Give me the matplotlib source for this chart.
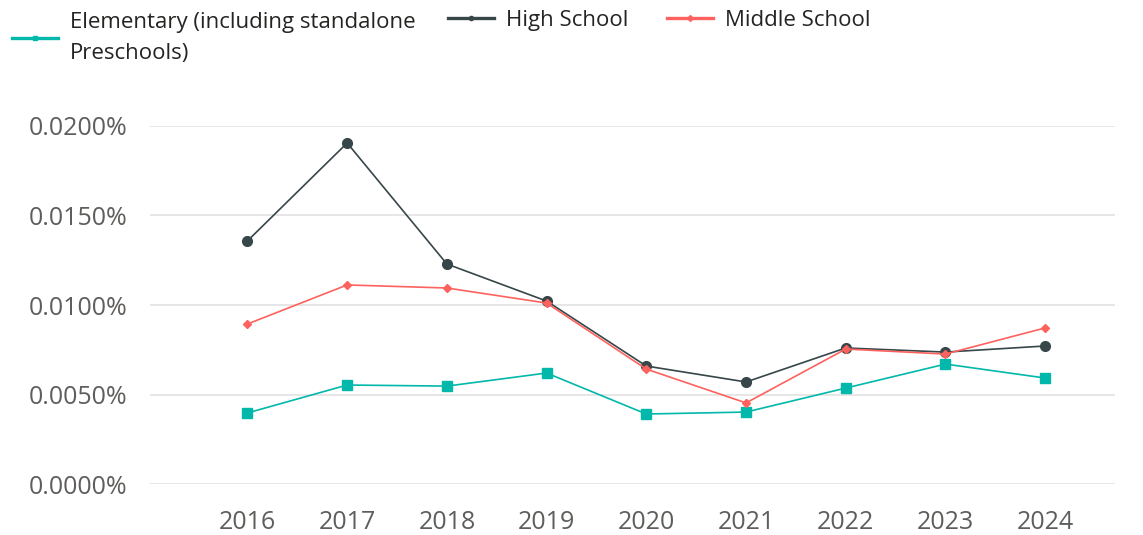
import matplotlib.pyplot as plt
from matplotlib.lines import Line2D
from matplotlib.ticker import FuncFormatter

years = [2016, 2017, 2018, 2019, 2020, 2021, 2022, 2023, 2024]

# values in percent
elementary = [0.00397, 0.00553, 0.00547, 0.00620, 0.00391, 0.00402, 0.00536, 0.00670, 0.00592]
high_school = [0.01358, 0.01905, 0.01229, 0.01022, 0.00659, 0.00570, 0.00760, 0.00737, 0.00771]
middle_school = [0.00894, 0.01112, 0.01095, 0.01011, 0.00642, 0.00453, 0.00754, 0.00726, 0.00872]

labels = ['Elementary (including standalone\nPreschools)', 'High School', 'Middle School']
colors = ['#01B8AA', '#374649', '#FD625E']
markers = ['s', 'o', 'D']
msizes = [6.5, 7, 4.5]

plt.rcParams['font.family'] = ['Open Sans', 'DejaVu Sans']

fig = plt.figure(figsize=(11.43, 5.35), dpi=100)
ax = fig.add_axes([0.131, 0.0953, 0.8445, 0.6692])

for vals, c, m, ms in zip([elementary, high_school, middle_school], colors, markers, msizes):
    ax.plot(years, vals, color=c, marker=m, markersize=ms, linewidth=1.2, zorder=3)

ax.set_xlim(2015.02, 2024.7)
ax.set_ylim(0, 0.02)
ax.set_yticks([0, 0.005, 0.01, 0.015, 0.02])
ax.set_xticks(years)
ax.yaxis.set_major_formatter(FuncFormatter(lambda v, p: f'{v:.4f}%'))
ax.grid(axis='y', color='#E1E1E1', linewidth=1.2)
ax.set_axisbelow(True)
for s in ax.spines.values():
    s.set_visible(False)
ax.tick_params(length=0, labelsize=18, labelcolor='#605E5C')
ax.tick_params(axis='y', pad=16)
ax.tick_params(axis='x', pad=19)

# legend, one block per series
anchors = [(0.0105, 0.9285), (0.392, 0.9626), (0.5836, 0.9626)]
for lab, c, m, anc in zip(labels, colors, markers, anchors):
    h = Line2D([], [], color=c, marker=m, markersize=3, linewidth=2.4)
    leg = fig.legend([h], [lab], loc='center left', bbox_to_anchor=anc, frameon=False,
                     fontsize=16, handlelength=2.07, handletextpad=0.54, borderpad=0,
                     borderaxespad=0, labelcolor='#252423')
    for t in leg.get_texts():
        t.set_linespacing(1.65)

fig.savefig('out.png', dpi=100)
